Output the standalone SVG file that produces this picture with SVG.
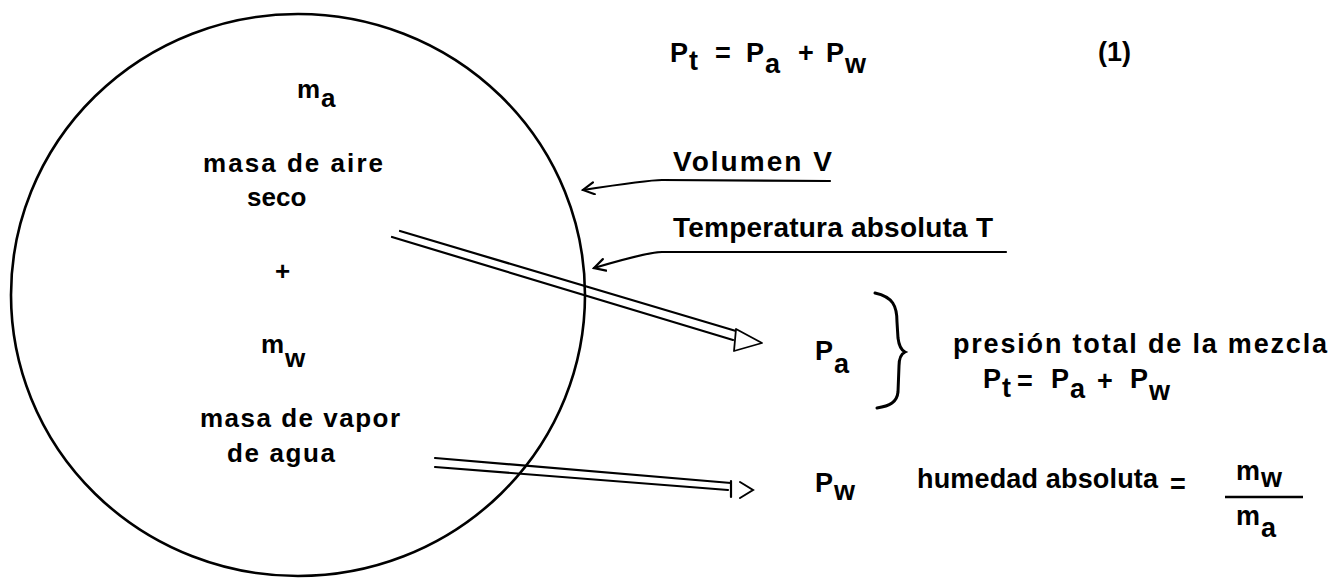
<svg xmlns="http://www.w3.org/2000/svg" width="1343" height="580" viewBox="0 0 1343 580">
<style>
  text { font-family: "Liberation Sans", Arial, sans-serif; font-weight: bold; fill: #000; }
  .c { font-size: 26px; }
  .r { font-size: 28px; }
  .e { font-size: 27px; }
  .ln { fill: none; stroke: #000; stroke-width: 2.2; stroke-linecap: round; }
  .dl { fill: none; stroke: #000; stroke-width: 2.2; stroke-linecap: round; }
</style>
<defs>
  <marker id="open" markerWidth="14" markerHeight="16" refX="12" refY="7" orient="auto" markerUnits="userSpaceOnUse">
    <path d="M1,1 L12,7 L1,13" fill="none" stroke="#000" stroke-width="2.2" stroke-linecap="round"/>
  </marker>
</defs>
<rect width="1343" height="580" fill="#fff"/>

<g id="volume">
  <ellipse cx="298" cy="295" rx="287" ry="281" fill="none" stroke="#000" stroke-width="2.6"/>
</g>

<g id="dry-air">
  <text class="c"><tspan x="297" y="98">m</tspan><tspan x="321" y="107">a</tspan></text>
  <text class="c" x="203" y="172" textLength="180" lengthAdjust="spacing">masa de aire</text>
  <text class="c" x="247" y="206">seco</text>
</g>

<g id="plus">
  <text class="c" x="275" y="280">+</text>
</g>

<g id="water-vapour">
  <text class="c"><tspan x="261" y="353">m</tspan><tspan x="285" y="367">w</tspan></text>
  <text class="c" x="200" y="427" textLength="200" lengthAdjust="spacing">masa de vapor</text>
  <text class="c" x="227" y="462" textLength="108" lengthAdjust="spacing">de agua</text>
</g>

<g id="equation-1">
  <text class="e"><tspan x="670" y="62">P</tspan><tspan x="689" y="70">t</tspan><tspan x="715" y="62">=</tspan><tspan x="746" y="62">P</tspan><tspan x="765" y="73">a</tspan><tspan x="798" y="62">+</tspan><tspan x="826" y="62">P</tspan><tspan x="845" y="73">w</tspan></text>
  <text class="e" x="1098" y="61">(1)</text>
</g>

<g id="label-volume">
  <text class="r" x="673" y="171" textLength="159" lengthAdjust="spacing">Volumen V</text>
</g>

<g id="label-temperature">
  <text class="r" x="673" y="237" textLength="320" lengthAdjust="spacing">Temperatura absoluta T</text>
</g>

<g id="pa">
  <text class="e"><tspan x="815" y="360">P</tspan><tspan x="834" y="373">a</tspan></text>
  <path d="M875,293 C893,297 897,306 897,322 L898,338 C899,346 901,350 905,352 C901,354 899,358 899,366 L898,392 C897,402 890,406 877,408" fill="none" stroke="#000" stroke-width="3" stroke-linecap="round"/>
</g>

<g id="total-pressure">
  <text class="e" x="953" y="353" textLength="374" lengthAdjust="spacing">presión total de la mezcla</text>
  <text class="e"><tspan x="983" y="388">P</tspan><tspan x="1002" y="397">t</tspan><tspan x="1017" y="390">=</tspan><tspan x="1051" y="388">P</tspan><tspan x="1070" y="398">a</tspan><tspan x="1097" y="390">+</tspan><tspan x="1130" y="388">P</tspan><tspan x="1149" y="400">w</tspan></text>
</g>

<g id="pw">
  <text class="e"><tspan x="815" y="492">P</tspan><tspan x="834" y="500">w</tspan></text>
</g>

<g id="humidity">
  <text class="e" x="917" y="488" textLength="241" lengthAdjust="spacing">humedad absoluta</text>
  <text class="e" x="1170" y="493">=</text>
  <text class="e"><tspan x="1236" y="480">m</tspan><tspan x="1261" y="487">w</tspan></text>
  <line x1="1225" y1="497" x2="1303" y2="497" stroke="#000" stroke-width="2.4"/>
  <text class="e"><tspan x="1236" y="525">m</tspan><tspan x="1261" y="537">a</tspan></text>
</g>

<g id="connectors">
  <path class="ln" d="M830,181 L662,180 Q648,180 583,190" marker-end="url(#open)"/>
  <path class="ln" d="M1006,252 L662,252 Q648,252 594,268" marker-end="url(#open)"/>
  <line class="dl" x1="400" y1="231" x2="736" y2="331" stroke-width="2.8"/>
  <line class="dl" x1="392" y1="237" x2="733" y2="340"/>
  <polygon points="736,329 762,343 734,351" fill="#fff" stroke="#000" stroke-width="1.8" stroke-linejoin="round"/>
  <line class="dl" x1="435" y1="458" x2="731" y2="483"/>
  <line class="dl" x1="435" y1="467" x2="728" y2="490"/>
  <line class="dl" x1="731" y1="481" x2="731" y2="497"/>
  <polyline points="740,482 753,490 740,498" fill="none" stroke="#000" stroke-width="2" stroke-linecap="round"/>
</g>
</svg>
